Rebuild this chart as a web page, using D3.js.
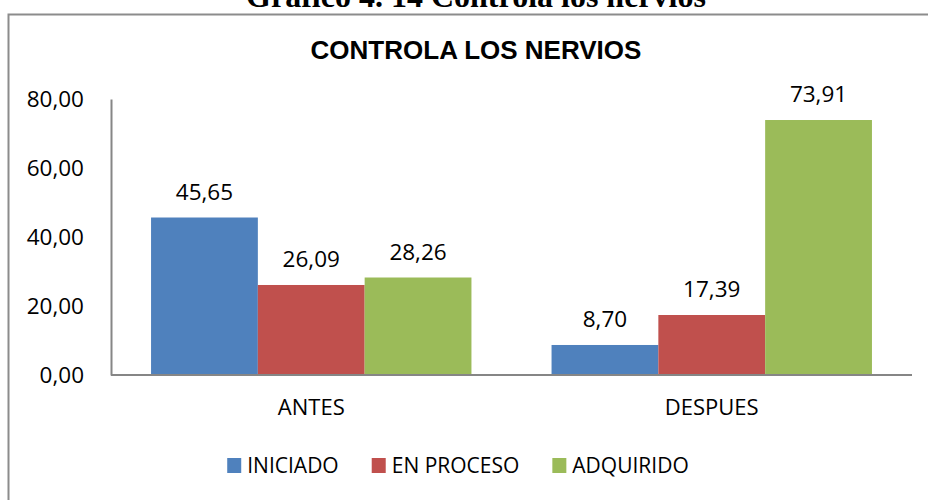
<!DOCTYPE html>
<html>
<head>
<meta charset="utf-8">
<script src="https://cdn.jsdelivr.net/npm/d3@7"></script>
<style>
  body { margin: 0; background: #fff; }
  svg { display: block; }
</style>
</head>
<body>
<div id="chart"></div>
<script>
// data
const categories = ["ANTES", "DESPUES"];
const series     = ["INICIADO", "EN PROCESO", "ADQUIRIDO"];
const antes      = [45.65, 26.09, 28.26];
const despues    = [8.70, 17.39, 73.91];
const yTicks     = [0, 20, 40, 60, 80];

const colors = ["#4F81BD", "#C0504D", "#9BBB59"];
const values = [antes, despues];

const width = 928, height = 500;
const margin = { top: 99, right: 16, bottom: 125, left: 111 };

const svg = d3.select("#chart").append("svg")
  .attr("width", width)
  .attr("height", height);

const fmt = v => d3.format(".2f")(v).replace(".", ",");
const numFont = "'Open Sans', 'Noto Sans', sans-serif";

// outer frame (runs off the right and bottom edge)
svg.append("rect")
  .attr("x", 8.5).attr("y", 14.5)
  .attr("width", 960).attr("height", 520)
  .attr("fill", "none")
  .attr("stroke", "#8c8c8c")
  .attr("stroke-width", 2);

// document caption, cut off at the top like the source
svg.append("text")
  .attr("x", 476).attr("y", 7)
  .attr("text-anchor", "middle")
  .style("font-family", "'Liberation Serif', 'Times New Roman', serif")
  .style("font-weight", "bold")
  .style("font-size", "32px")
  .text("Gráfico 4. 14 Controla los nervios");

// chart title
svg.append("text")
  .attr("x", 476).attr("y", 59)
  .attr("text-anchor", "middle")
  .style("font-family", "'Liberation Sans', Arial, sans-serif")
  .style("font-weight", "bold")
  .style("font-size", "26px")
  .text("CONTROLA LOS NERVIOS");

// scales
const x0 = d3.scaleBand()
  .domain(categories)
  .range([margin.left, width - margin.right])
  .paddingInner(0.2)
  .paddingOuter(0.1);

const x1 = d3.scaleBand()
  .domain(series)
  .range([0, x0.bandwidth()]);

const y = d3.scaleLinear()
  .domain([0, 80])
  .range([height - margin.bottom, margin.top]);

// bars
const groups = svg.selectAll("g.group")
  .data(categories)
  .join("g")
  .attr("class", "group")
  .attr("transform", d => `translate(${x0(d)},0)`);

groups.selectAll("rect")
  .data((d, i) => series.map((s, j) => ({ s, v: values[i][j], c: colors[j] })))
  .join("rect")
  .attr("x", d => x1(d.s))
  .attr("y", d => y(d.v))
  .attr("width", x1.bandwidth())
  .attr("height", d => y(0) - y(d.v))
  .attr("fill", d => d.c);

// value labels
groups.selectAll("text.value")
  .data((d, i) => series.map((s, j) => ({ s, v: values[i][j] })))
  .join("text")
  .attr("class", "value")
  .attr("x", d => x1(d.s) + x1.bandwidth() / 2)
  .attr("y", d => y(d.v) - 18)
  .attr("text-anchor", "middle")
  .style("font-family", numFont)
  .style("font-size", "22.5px")
  .style("fill", "#000")
  .text(d => fmt(d.v));

// y axis
const yAxis = svg.append("g")
  .attr("transform", `translate(${margin.left},0)`)
  .call(d3.axisLeft(y).tickValues(yTicks).tickSize(0).tickPadding(27).tickFormat(fmt));
yAxis.select(".domain").attr("stroke", "#868686").attr("stroke-width", 2);
yAxis.selectAll("text")
  .style("font-family", numFont)
  .style("font-size", "22.5px")
  .style("fill", "#000");

// x axis
const xAxis = svg.append("g")
  .attr("transform", `translate(0,${y(0)})`)
  .call(d3.axisBottom(x0).tickSize(0).tickPadding(24)
    .tickSizeOuter(0));
xAxis.select(".domain")
  .attr("d", `M${margin.left},0H${width - margin.right}`)
  .attr("stroke", "#868686").attr("stroke-width", 2);
xAxis.selectAll("text")
  .style("font-family", numFont)
  .style("font-size", "22px")
  .style("fill", "#000");

// legend
const legend = svg.append("g").attr("transform", "translate(0,473)");
const items = legend.selectAll("g")
  .data(series)
  .join("g");
items.append("rect")
  .attr("y", -15).attr("width", 14).attr("height", 15)
  .attr("fill", (d, i) => colors[i]);
items.append("text")
  .attr("x", 20)
  .style("font-family", numFont)
  .style("font-size", "21px")
  .style("fill", "#000")
  .text(d => d);

let off = 0;
const offsets = [];
items.each(function () {
  offsets.push(off);
  off += this.getBBox().width + 33;
});
off -= 33;
const start = 458 - off / 2;
items.attr("transform", (d, i) => `translate(${start + offsets[i]},0)`);
</script>
</body>
</html>
